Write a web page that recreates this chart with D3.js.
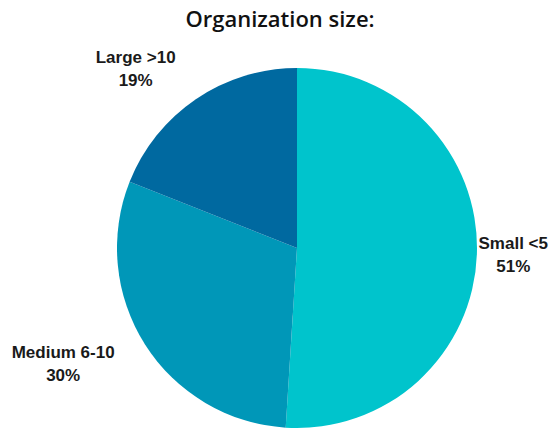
<!DOCTYPE html>
<html>
<head>
<meta charset="utf-8">
<script src="https://cdn.jsdelivr.net/npm/d3@7"></script>
<style>
  body { margin: 0; background: #fff; }
</style>
</head>
<body>
<div id="chart"></div>
<script>
// Data
const categories = ["Small <5", "Medium 6-10", "Large >10"];
const values = [51, 30, 19];
const colors = ["#00c4cc", "#0097b8", "#0069a0"];

const width = 550, height = 430;
const cx = 297, cy = 248, radius = 180;

const svg = d3.select("#chart")
    .append("svg")
    .attr("width", width)
    .attr("height", height);

// Title
svg.append("text")
    .attr("x", 280)
    .attr("y", 27)
    .attr("text-anchor", "middle")
    .style("font-family", "'Open Sans', sans-serif")
    .style("font-weight", 600)
    .style("font-size", "22px")
    .style("fill", "#111")
    .text("Organization size:");

const data = categories.map((c, i) => ({ name: c, value: values[i], color: colors[i] }));

const pie = d3.pie().sort(null).value(d => d.value);
const arc = d3.arc().innerRadius(0).outerRadius(radius);
const labelArc = d3.arc().innerRadius(radius * 1.2).outerRadius(radius * 1.2);

const g = svg.append("g").attr("transform", `translate(${cx},${cy})`);

const arcs = pie(data);

g.selectAll("path.slice")
    .data(arcs)
    .enter()
    .append("path")
    .attr("class", "slice")
    .attr("d", arc)
    .attr("fill", d => d.data.color);

// Labels: anchored outside the slice, pulled in if they would leave the canvas
const labels = g.selectAll("text.label")
    .data(arcs)
    .enter()
    .append("text")
    .attr("class", "label")
    .style("font-family", "'Liberation Sans', Arial, sans-serif")
    .style("font-weight", "bold")
    .style("font-size", "17px")
    .style("fill", "#1a1a1a")
    .attr("text-anchor", "middle");

labels.append("tspan")
    .attr("class", "l1")
    .attr("x", 0).attr("y", 0)
    .text(d => d.data.name);
labels.append("tspan")
    .attr("class", "l2")
    .attr("x", 0).attr("y", 23)
    .text(d => d.data.value + "%");

labels.each(function(d) {
    const t = d3.select(this);
    const w = this.getBBox().width;
    let [x, y] = labelArc.centroid(d);
    const mid = (d.startAngle + d.endAngle) / 2;
    // shift the block outward horizontally
    x += Math.sin(mid) >= 0 ? w / 2 : -w / 2;
    // keep inside the canvas
    const maxX = width - 2 - cx - w / 2;
    const minX = 2 - cx + w / 2;
    x = Math.max(minX, Math.min(maxX, x));
    t.selectAll("tspan").attr("x", x);
    t.select(".l1").attr("y", y - 6);
    t.select(".l2").attr("y", y + 17);
});
</script>
</body>
</html>
